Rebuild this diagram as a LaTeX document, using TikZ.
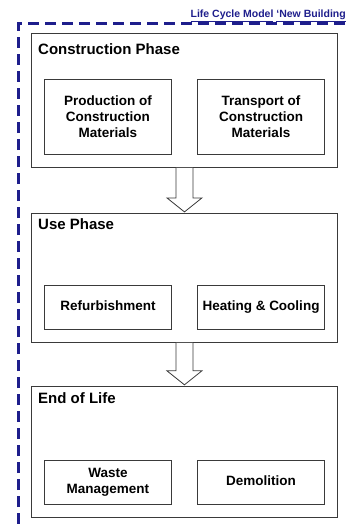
\documentclass[tikz,border=0pt]{standalone}
\usepackage{fontspec}
\setmainfont{Liberation Sans}
\usetikzlibrary{positioning, calc}
\definecolor{cframe}{HTML}{1E1E8C}
\definecolor{cline}{HTML}{3A3A3A}

\begin{document}
\begin{tikzpicture}[
  x=1pt, y=-1pt,
  font=\bfseries,
  phasebox/.style={
    rectangle, draw=cline, line width=0.9pt,
    inner sep=0pt, anchor=north west,
    minimum width=306pt
  },
  phasetitle/.style={
    anchor=base west, inner sep=0pt,
    font=\fontsize{15}{18}\selectfont\bfseries
  },
  subbox/.style={
    rectangle, draw=cline, line width=0.8pt,
    inner sep=0pt, align=center,
    minimum width=127pt,
    font=\fontsize{13.5}{16}\selectfont\bfseries
  },
  oneline/.style={text height=10pt, text depth=3pt},
  flowarrow/.style={
    draw=cline, fill=white, line width=0.8pt, line join=miter
  },
  framelabel/.style={
    anchor=base east, inner sep=0pt, text=cframe,
    font=\fontsize{10.5}{12}\selectfont\bfseries
  }
]

\useasboundingbox (0,0) rectangle (348,524);

\draw[cframe, line width=3pt, dash pattern=on 11pt off 6pt]
  (18,524) -- (18,24) -- (350,24);
\node[framelabel] (lbl) at (346,18) {\underline{Life Cycle Model} \underline{‘New Building}};

\node[phasebox, minimum height=134pt] (cp) at (31,33) {};
\node[phasetitle] (cpt) at ($(cp.north west)+(7,22)$) {Construction Phase};
\node[subbox, minimum height=75pt, above right=13pt and 13pt of cp.south west, anchor=south west] (prod)
  {Production of\\Construction\\Materials};
\node[subbox, minimum height=75pt, above left=13pt and 13pt of cp.south east, anchor=south east] (trans)
  {Transport of\\Construction\\Materials};

\node[phasebox, minimum height=129pt, below=45pt of cp.south west, anchor=north west] (up) {};
\node[phasetitle] (upt) at ($(up.north west)+(7,17)$) {Use Phase};
\node[subbox, oneline, minimum height=44pt, above right=13pt and 13pt of up.south west, anchor=south west] (refurb)
  {Refurbishment};
\node[subbox, oneline, minimum height=44pt, above left=13pt and 13pt of up.south east, anchor=south east] (heat)
  {Heating \& Cooling};

\node[phasebox, minimum height=131pt, below=43pt of up.south west, anchor=north west] (eol) {};
\node[phasetitle] (eolt) at ($(eol.north west)+(7,18)$) {End of Life};
\node[subbox, minimum height=44pt, above right=13pt and 13pt of eol.south west, anchor=south west] (waste)
  {Waste\\Management};
\node[subbox, oneline, minimum height=44pt, above left=13pt and 13pt of eol.south east, anchor=south east] (demol)
  {Demolition};

\draw[flowarrow] ([xshift=-8.5pt]cp.south) -- ([xshift=-8.5pt,yshift=15pt]up.north)
  -- ([xshift=-17.5pt,yshift=15pt]up.north) -- ([yshift=1pt]up.north)
  -- ([xshift=17.5pt,yshift=15pt]up.north) -- ([xshift=8.5pt,yshift=15pt]up.north)
  -- ([xshift=8.5pt]cp.south);
\draw[flowarrow] ([xshift=-8.5pt]up.south) -- ([xshift=-8.5pt,yshift=15pt]eol.north)
  -- ([xshift=-17.5pt,yshift=15pt]eol.north) -- ([yshift=1pt]eol.north)
  -- ([xshift=17.5pt,yshift=15pt]eol.north) -- ([xshift=8.5pt,yshift=15pt]eol.north)
  -- ([xshift=8.5pt]up.south);

\end{tikzpicture}
\end{document}
